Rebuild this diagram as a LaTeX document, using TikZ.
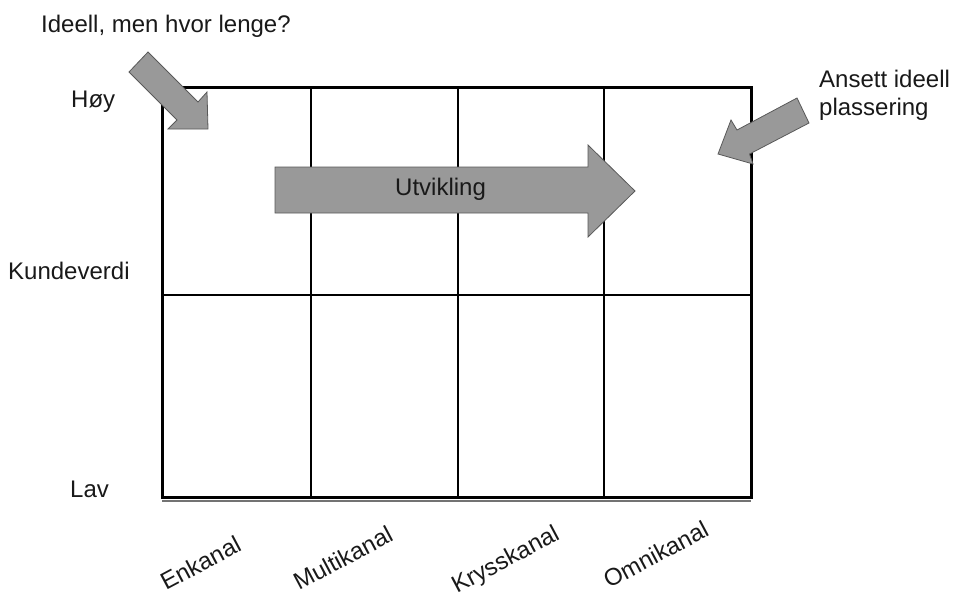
\documentclass[tikz,border=0pt]{standalone}
\usepackage{fontspec}
\setmainfont{Liberation Sans}
\begin{document}
\begin{tikzpicture}[x=1pt,y=-1pt,
  lbl/.style={inner sep=0pt, anchor=base west, font=\fontsize{24}{28}\selectfont, text=black!90},
  axislbl/.style={lbl, rotate=28},
  frame/.style={line width=3pt, line join=miter},
  divider/.style={line width=1.6pt},
  midline/.style={line width=2.6pt},
  bigarrow/.style={fill=black!40, draw=black!65, line width=0.8pt, line join=miter}]
\useasboundingbox (0,0) rectangle (956,598);

% grid corners and dividers
\coordinate (nw) at (162,87);
\coordinate (se) at (751,497);
\coordinate (ml) at (162,295);
\coordinate (mr) at (751,295);
\foreach \x [count=\i] in {311,458,604} {
  \coordinate (t\i) at (\x,87);
  \coordinate (b\i) at (\x,497);
}

% grid
\draw[black!55, line width=2pt] (162,500.5) -- (751,500.5);
\foreach \i in {1,2,3} \draw[divider] (t\i) -- (b\i);
\draw[midline] (ml) -- (mr);
\draw[frame] (nw) rectangle (se);

% arrows
\draw[bigarrow] (129,72) -- (148,52) -- (198,102) -- (207,92) -- (208,129)
  -- (168,129) -- (177,120) -- cycle;
\draw[bigarrow] (797,98) -- (737,130) -- (731,120) -- (718,154) -- (753,164)
  -- (749.5,154) -- (809,123) -- cycle;
\draw[bigarrow] (275,167) -- (588,167) -- (588,145) -- (635,191) -- (588,237)
  -- (588,213) -- (275,213) -- cycle;
\node[lbl] (utv) at (395,195) {Utvikling};

% labels
\node[lbl] (ideell) at (41,32) {Ideell, men hvor lenge?};
\node[lbl] (ansett1) at (819,87) {Ansett ideell};
\node[lbl] (ansett2) at (819,115) {plassering};
\node[lbl] (hoy) at (71,107) {Høy};
\node[lbl] (kunde) at (8,279) {Kundeverdi};
\node[lbl] (lav) at (70,497) {Lav};

% channel labels
\node[axislbl] (enk) at (166,591) {Enkanal};
\node[axislbl] (multi) at (299,591) {Multikanal};
\node[axislbl] (kryss) at (457,594) {Krysskanal};
\node[axislbl] (omni) at (609,589) {Omnikanal};
\end{tikzpicture}
\end{document}
